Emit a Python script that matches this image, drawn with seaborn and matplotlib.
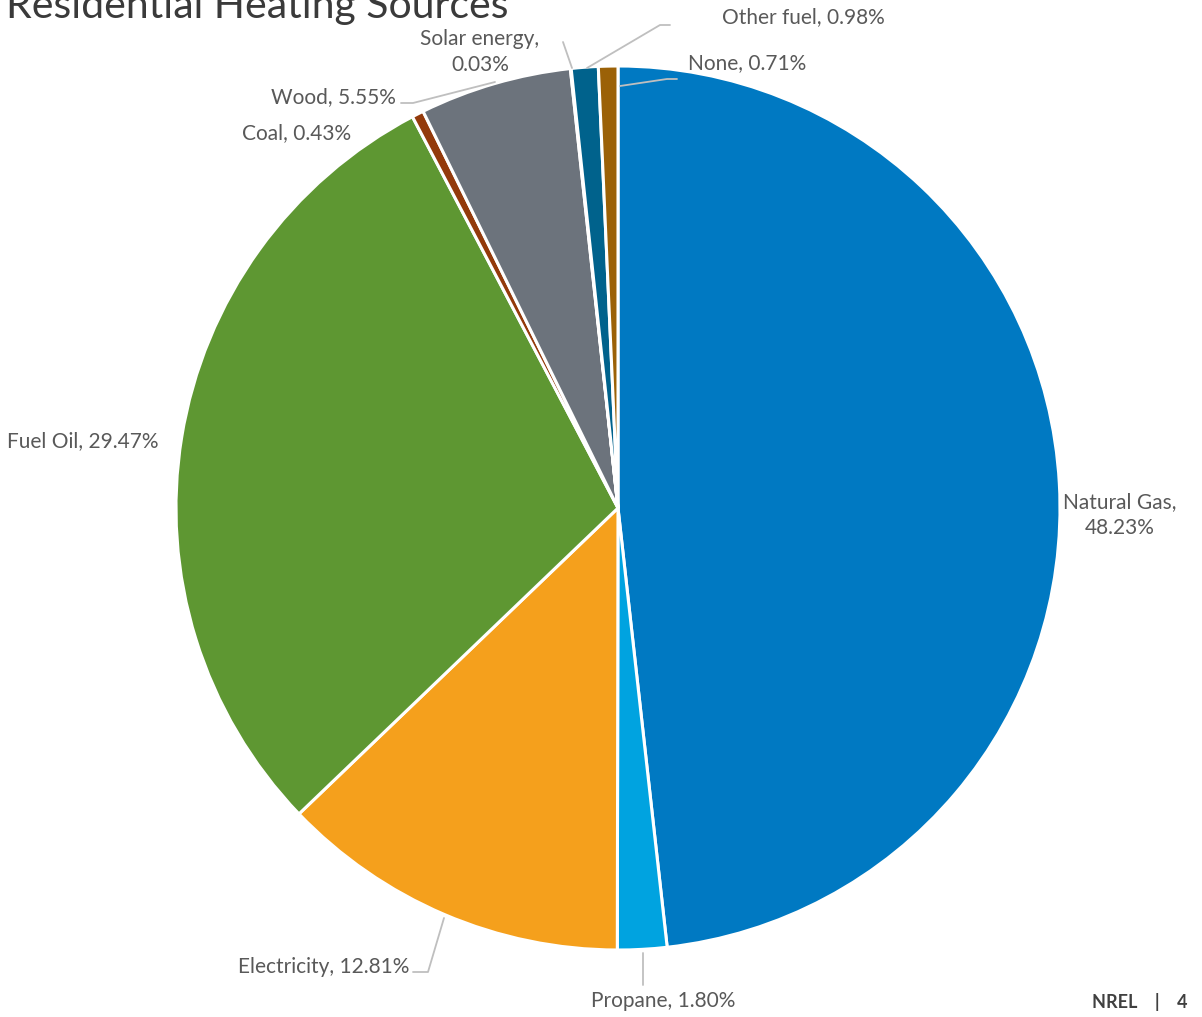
import matplotlib
matplotlib.use("Agg")
import matplotlib.pyplot as plt
import seaborn as sns

# Data (clockwise from 12 o'clock)
sources = ["Natural Gas", "Propane", "Electricity", "Fuel Oil", "Coal",
           "Wood", "Solar energy", "Other fuel", "None"]
shares = [48.23, 1.80, 12.81, 29.47, 0.43, 5.55, 0.03, 0.98, 0.71]
colors = ["#0079C2", "#00A3E0", "#F5A01C", "#5E9732", "#933A0B",
          "#6C737C", "#1F5A8A", "#00628C", "#9B6107"]

sns.set_theme(style="white")
plt.rcParams['font.family'] = ['Lato', 'DejaVu Sans']

W, H = 1202, 1017
fig = plt.figure(figsize=(W / 100, H / 100), dpi=100)
ax = fig.add_axes([0, 0, 1, 1])

# pixel geometry of the pie in the reference
cx, cy, r = 618, 508, 442


def px(x, y):
    return (x - cx) / r, (cy - y) / r


ax.pie(shares, colors=colors, startangle=90, counterclock=False, radius=1,
       wedgeprops=dict(edgecolor="white", linewidth=2.2))
ax.set_xlim(-cx / r, (W - cx) / r)
ax.set_ylim(-(H - cy) / r, cy / r)
ax.set_aspect("equal")
ax.axis("off")

label_color = "#595959"
line_color = "#BFBFBF"
fs = 15

# label text and its position (pixel centres)
labels = [
    ("Natural Gas,\n48.23%", 1120, 515, "center"),
    ("Propane, 1.80%", 663, 1001, "center"),
    ("Electricity, 12.81%", 409, 967, "right"),
    ("Fuel Oil, 29.47%", 83, 441, "center"),
    ("Coal, 0.43%", 297, 133, "center"),
    ("Wood, 5.55%", 396, 97, "right"),
    ("Solar energy,\n0.03%", 480, 52, "center"),
    ("Other fuel, 0.98%", 803, 17, "center"),
    ("None, 0.71%", 747, 63, "center"),
]
for txt, x, y, ha in labels:
    ax.text(*px(x, y), txt, ha=ha, va="center", fontsize=fs,
            color=label_color, linespacing=1.35)

# leader lines
leaders = [
    [(643, 953), (643, 985)],
    [(413, 972), (428, 972), (444, 918)],
    [(401, 103), (413, 103), (495, 82)],
    [(563, 42), (572, 68)],
    [(587, 68), (660, 25), (670, 25)],
    [(620, 86), (667, 79), (677, 79)],
]
for pts in leaders:
    xs, ys = zip(*[px(x, y) for x, y in pts])
    ax.plot(xs, ys, color=line_color, lw=1.3)

# title sits partly above the top edge, as in the slide
fig.text(6 / W, 1 - 18 / H, "Residential Heating Sources", fontsize=29.5,
         color="#3A3A3A", ha="left", va="baseline")
fig.text(1 - 14 / W, 6 / H, "NREL    |    4", fontsize=13, fontweight="bold",
         color="#404040", ha="right", va="bottom")

fig.savefig("out.png", dpi=100)
